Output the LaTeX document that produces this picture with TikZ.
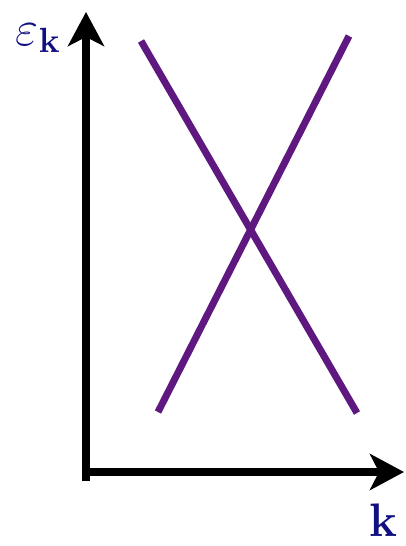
\RequirePackage{fix-cm}
\documentclass[tikz,border=0pt]{standalone}
\usetikzlibrary{arrows.meta}
\definecolor{bandpurple}{RGB}{94,24,128}
\definecolor{labelblue}{RGB}{16,16,128}
\begin{document}
\begin{tikzpicture}[x=1pt, y=-1pt]
\useasboundingbox (0,0) rectangle (406,546);
\tikzset{axis/.style={line width=8pt, -{Stealth[length=34pt, width=36pt, inset=9pt]}},
         band/.style={bandpurple, line width=7pt}}

\coordinate (o) at (86,472);
\draw[axis] (86,481) -- (86,12) coordinate (ytip);
\draw[axis] (82,472) -- (404,472) coordinate (xtip);
\node[labelblue, font=\fontsize{50}{50}\selectfont] (elabel) at (38,38) {$\varepsilon_{\mathbf{k}}$};
\node[labelblue, font=\fontsize{47}{47}\selectfont] (klabel) at (383,520) {$\mathbf{k}$};

\draw[band] (141,41) -- (357,413);
\draw[band] (158,412) -- (349,36);
\end{tikzpicture}
\end{document}
